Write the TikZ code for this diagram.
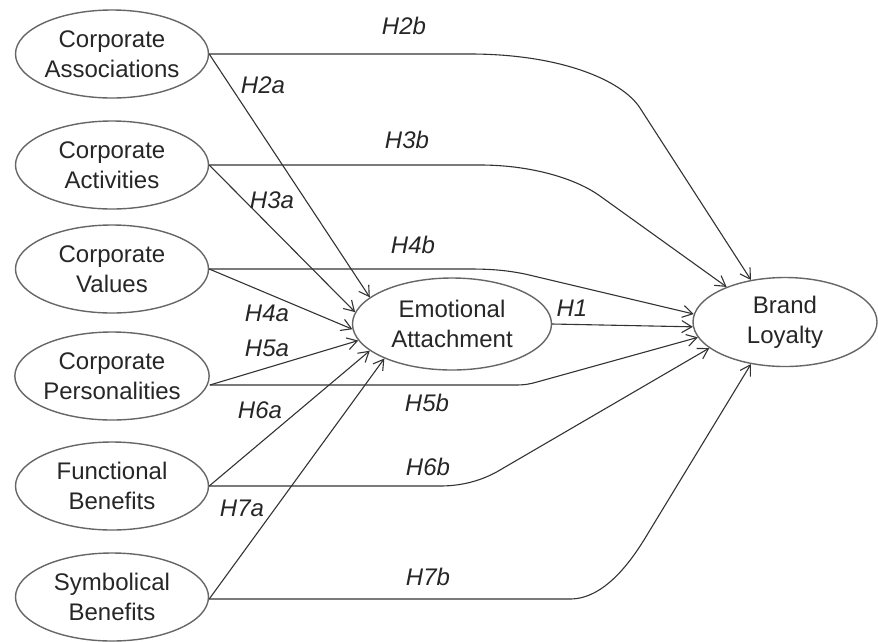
\documentclass[tikz,border=0pt]{standalone}
\usepackage{fontspec}
\setmainfont{Liberation Sans}
\usetikzlibrary{shapes.geometric,arrows.meta}

\tikzset{
  construct/.style={ellipse, draw=black!60, line width=1.4pt, inner sep=0pt, align=center,
    minimum width=193pt, minimum height=88pt, text=black!85, font=\fontsize{24}{30}\selectfont},
  link/.style={draw=black!80, line width=1.1pt, line join=round,
    -{Straight Barb[length=10pt,width=12pt]}},
  hyp/.style={inner sep=0pt, text=black!85, font=\fontsize{24}{30}\selectfont\itshape},
}

\begin{document}
\begin{tikzpicture}[x=1pt, y=-1pt]

  %% ════ 左侧六个构念 ════
  \node[construct] (assoc) at (112,54)  {Corporate\\Associations};
  \node[construct] (activ) at (112,165) {Corporate\\Activities};
  \node[construct] (value) at (112,269) {Corporate\\Values};
  \node[construct] (perso) at (112,376) {Corporate\\Personalities};
  \node[construct] (funct) at (112,486) {Functional\\Benefits};
  \node[construct] (symbo) at (112,597) {Symbolical\\Benefits};

  %% ════ 中介与结果 ════
  \node[construct, minimum width=199pt, minimum height=92pt] (emo) at (452,324) {Emotional\\Attachment};
  \node[construct, minimum width=184pt, minimum height=89pt] (loyal) at (785,322) {Brand\\Loyalty};

  %% ════ a 路径：指向 Emotional Attachment ════
  \draw[link] (assoc.east) -- (emo.162.8);
  \draw[link] (activ.east) -- (emo.173);
  \draw[link] (value.east) -- (emo.183.5);
  \draw[link] ([yshift=-9pt]perso.east) -- (emo.190);
  \draw[link] (funct.east) -- (emo.198);
  \draw[link] ([yshift=-2pt]symbo.east) -- (emo.207);

  %% ════ H1 ════
  \draw[link] (emo.east) -- (loyal.183.7);

  %% ════ b 路径：先水平，再弯向 Brand Loyalty ════
  \draw[link] (assoc.east) -- (470,54) .. controls (560,54) and (622,80) .. (640,108) -- (loyal.129);
  \draw[link] (activ.east) -- (480,165) .. controls (530,165) and (575,178) .. (600,196) -- (loyal.149.8);
  \draw[link] (value.east) -- (470,269) .. controls (495,269) and (510,271) .. (525,274) -- (loyal.175.6);
  \draw[link] ([yshift=-9pt]perso.east) -- (515,385) .. controls (525,385) and (530,384) .. (537,382) -- (loyal.190);
  \draw[link] (funct.east) -- (440,486) .. controls (465,486) and (485,479) .. (500,470) -- (loyal.199);
  \draw[link] ([yshift=-2pt]symbo.east) -- (570,599) .. controls (605,599) and (632,560) .. (647,535) -- (loyal.231);

  %% ════ 假设标签 ════
  \node[hyp] (l2b) at (404,26)  {H2b};
  \node[hyp] (l2a) at (263,85)  {H2a};
  \node[hyp] (l3b) at (407,140) {H3b};
  \node[hyp] (l3a) at (272,200) {H3a};
  \node[hyp] (l4b) at (413,245) {H4b};
  \node[hyp] (l4a) at (267,313) {H4a};
  \node[hyp] (l5a) at (267,348) {H5a};
  \node[hyp] (l5b) at (427,403) {H5b};
  \node[hyp] (l6a) at (260,410) {H6a};
  \node[hyp] (l6b) at (428,467) {H6b};
  \node[hyp] (l7a) at (242,508) {H7a};
  \node[hyp] (l7b) at (428,577) {H7b};
  \node[hyp] (l1)  at (572,308) {H1};

  % 钉死画布
  \pgfresetboundingbox
  \path[use as bounding box] (0,0) rectangle (878,641);
\end{tikzpicture}
\end{document}
